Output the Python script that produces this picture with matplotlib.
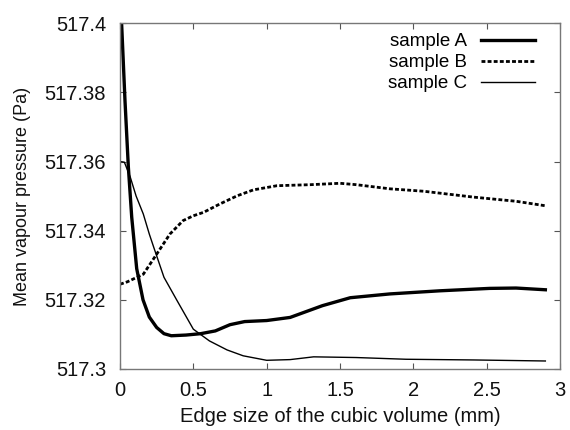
import numpy as np
import matplotlib.pyplot as plt

plt.rcParams['font.family'] = ['Liberation Sans', 'DejaVu Sans']

# values
xa = [0, 0.011, 0.034, 0.057, 0.08, 0.114, 0.157, 0.2, 0.25, 0.3, 0.35, 0.45,
      0.55, 0.65, 0.75, 0.85, 1.0, 1.16, 1.38, 1.57, 1.84, 2.18, 2.52, 2.7, 2.9]
ya = [517.403, 517.4, 517.3777, 517.3584, 517.3439, 517.329, 517.32, 517.315,
      517.312, 517.3102, 517.3096, 517.3098, 517.3102, 517.311, 517.3128,
      517.3137, 517.314, 517.3149, 517.3183, 517.3206, 517.3217, 517.3226,
      517.3233, 517.3234, 517.3229]

xb = [0, 0.05, 0.1, 0.159, 0.2, 0.25, 0.34, 0.43, 0.5, 0.57, 0.68, 0.8, 0.91,
      1.07, 1.3, 1.5, 1.61, 1.84, 2.07, 2.41, 2.7, 2.9]
yb = [517.3245, 517.3252, 517.3262, 517.3274, 517.330, 517.3332, 517.339,
      517.3429, 517.3443, 517.3453, 517.3477, 517.3501, 517.3518, 517.353,
      517.3533, 517.3537, 517.3533, 517.3521, 517.3514, 517.3497, 517.3485,
      517.3472]

xc = [0, 0.03, 0.07, 0.11, 0.159, 0.2, 0.23, 0.3, 0.39, 0.5, 0.61, 0.73, 0.84,
      1.0, 1.16, 1.32, 1.61, 1.95, 2.41, 2.9]
yc = [517.360, 517.3598, 517.3555, 517.350, 517.3448, 517.339, 517.3352,
      517.3265, 517.3197, 517.3115, 517.3081, 517.3055, 517.3038, 517.3025,
      517.3027, 517.3035, 517.3033, 517.3028, 517.3026, 517.3023]

fig = plt.figure(figsize=(5.7, 4.3), dpi=100)
ax = fig.add_axes([0.2105, 0.142, 0.772, 0.804])

ax.plot(xa, ya, color='k', lw=2.4, label='sample A')
ax.plot(xb, yb, color='k', lw=2.0, dashes=(1.4, 0.8), label='sample B')
ax.plot(xc, yc, color='k', lw=1.0, label='sample C')

ax.set_xlim(0, 3)
ax.set_ylim(517.3, 517.4)
ax.set_xticks(np.arange(0, 3.01, 0.5))
ax.set_xticklabels(['0', '0.5', '1', '1.5', '2', '2.5', '3'])
ax.set_yticks([517.3, 517.32, 517.34, 517.36, 517.38, 517.4])
ax.set_yticklabels(['517.3', '517.32', '517.34', '517.36', '517.38', '517.4'])
ax.tick_params(direction='in', length=4, width=0.8, color='#555555',
               top=True, right=True, labelsize=14.5, labelcolor='#111111')
ax.tick_params(axis='y', pad=10)
ax.tick_params(axis='x', pad=9)
for s in ax.spines.values():
    s.set_color('#777777')
    s.set_linewidth(1.0)

ax.set_xlabel('Edge size of the cubic volume (mm)', fontsize=14.5,
              color='#111111', labelpad=5)
ax.set_ylabel('Mean vapour pressure (Pa)', fontsize=13, color='#111111',
              labelpad=10)

ax.legend(loc='upper right', bbox_to_anchor=(0.943, 0.971), frameon=False,
          markerfirst=False, fontsize=13.5, handlelength=2.9,
          labelspacing=0.2, borderaxespad=0, handletextpad=0.7,
          borderpad=0)

fig.savefig('out.png', dpi=100)
